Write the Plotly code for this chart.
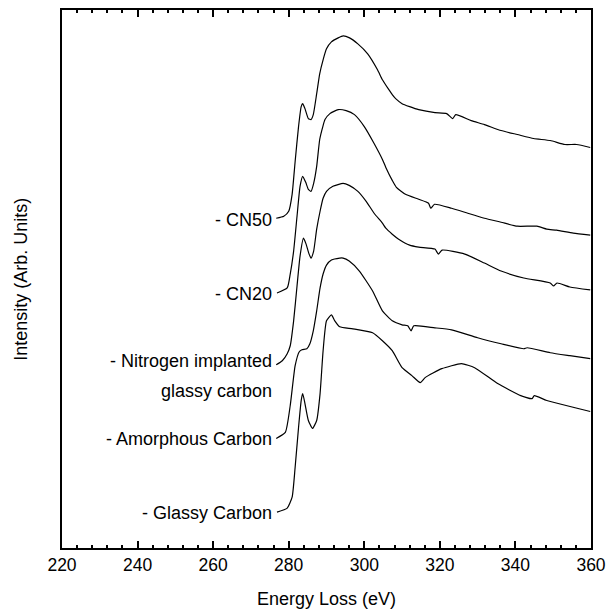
import plotly.graph_objects as go

# ---- data (energy in eV, intensity in arbitrary units, stacked) ----
cn50_e = [276.7, 278.7, 280.0, 280.9, 281.7, 282.6, 283.3, 283.7, 284.3, 285.2, 285.9, 286.5,
          287.4, 288.2, 289.1, 290.0, 291.3, 293.1, 294.4, 296.1, 298.3, 300.9, 303.5, 304.8,
          306.5, 307.4, 308.3, 310.0, 312.0, 314.4, 318.7, 321.8, 323.4, 324.2, 328.3, 331.8,
          336.2, 340.5, 344.8, 349.2, 353.1, 356.2, 359.8]
cn50_i = [331, 333, 338, 355, 388, 423, 443, 446, 441, 431, 430, 435,
          456, 476, 490, 501, 508, 512, 514, 512, 506, 496, 480, 470,
          460, 455, 451, 446, 443, 440, 437, 436, 431, 435, 429, 425,
          419, 415, 411, 409, 405, 405, 402]

cn20_e = [276.9, 279.6, 280.4, 281.3, 282.2, 283.0, 283.7, 284.5, 285.2, 285.9, 286.6, 287.4,
          288.2, 289.1, 289.6, 290.9, 293.1, 295.2, 297.4, 300.0, 302.6, 304.8, 305.7, 307.4,
          308.5, 310.9, 314.4, 317.0, 317.6, 318.6, 323.1, 327.4, 331.8, 336.2, 340.5, 345.7,
          348.3, 350.9, 355.3, 359.8]
cn20_i = [256, 261, 275, 298, 333, 363, 373, 367, 360, 358, 366, 383,
          410, 424, 430, 436, 440, 439, 435, 423, 406, 390, 382, 369,
          362, 355, 350, 346, 341, 345, 341, 336, 331, 327, 323, 323,
          320, 319, 316, 314]

nimp_e = [276.7, 278.3, 279.6, 280.4, 281.3, 282.2, 283.0, 283.9, 284.6, 285.3, 285.9, 286.6,
          287.4, 288.3, 289.1, 290.0, 291.7, 294.4, 296.0, 298.3, 300.5, 302.6, 304.8, 305.7,
          307.4, 309.1, 312.0, 314.4, 318.7, 319.6, 320.6, 326.6, 331.8, 336.2, 342.2, 349.2,
          350.1, 351.0, 354.4, 359.8]
nimp_i = [184, 188, 195, 203, 228, 263, 293, 311, 305, 296, 291, 298,
          320, 338, 351, 358, 363, 366, 364, 358, 348, 336, 326, 321,
          315, 310, 304, 302, 300, 295, 299, 295, 286, 278, 271, 266,
          263, 266, 262, 259]

amor_e = [276.7, 279.1, 280.4, 281.7, 282.8, 283.5, 284.8, 285.6, 286.5, 287.4, 288.3, 289.1,
          290.0, 291.3, 293.5, 294.4, 296.0, 298.7, 302.2, 304.8, 307.4, 310.0, 311.5, 312.4,
          313.1, 318.7, 323.1, 330.0, 336.2, 342.2, 343.1, 349.2, 354.4, 359.8]
amor_i = [110, 116, 143, 183, 197, 199, 200, 205, 218, 238, 261, 275,
          284, 289, 291, 291, 288, 278, 258, 238, 228, 224, 223, 218,
          223, 221, 219, 211, 205, 200, 201, 196, 193, 190]

glas_e = [276.9, 279.6, 280.9, 281.7, 282.6, 283.3, 283.7, 284.3, 285.2, 286.3, 287.4, 288.3,
          289.1, 290.0, 291.3, 292.2, 293.5, 297.0, 302.2, 304.8, 307.4, 310.0, 312.6, 314.8,
          316.1, 320.5, 325.7, 329.2, 335.3, 341.4, 344.4, 345.0, 348.3, 359.8]
glas_i = [36, 40, 51, 81, 121, 148, 155, 145, 128, 120, 128, 155,
          198, 228, 234, 228, 222, 220, 216, 208, 198, 181, 173, 166,
          171, 180, 185, 181, 165, 153, 150, 153, 148, 137]

series = [
    ("CN50", cn50_e, cn50_i),
    ("CN20", cn20_e, cn20_i),
    ("Nitrogen implanted glassy carbon", nimp_e, nimp_i),
    ("Amorphous Carbon", amor_e, amor_i),
    ("Glassy Carbon", glas_e, glas_i),
]

label_texts = ["- CN50", "- CN20", "- Nitrogen implanted", "glassy carbon",
               "- Amorphous Carbon", "- Glassy Carbon"]
label_y = [329, 255, 188, 158, 109, 35]

x_ticks = [220, 240, 260, 280, 300, 320, 340, 360]

FONT = "Liberation Sans, Arial, Helvetica, sans-serif"

fig = go.Figure()
for name, e, i in series:
    fig.add_trace(go.Scatter(x=e, y=i, mode="lines", name=name,
                             line=dict(color="black", width=1.2, shape="spline", smoothing=0.5),
                             showlegend=False, hoverinfo="skip"))

for t, yv in zip(label_texts, label_y):
    fig.add_annotation(x=276, y=yv, xref="x", yref="y", text=t, showarrow=False,
                       xanchor="right", yanchor="middle",
                       font=dict(family=FONT, size=18, color="black"))

fig.add_annotation(x=0.5, y=-0.095, xref="paper", yref="paper", text="Energy Loss (eV)",
                   showarrow=False, xanchor="center", yanchor="middle",
                   font=dict(family=FONT, size=18, color="black"))
fig.add_annotation(x=-0.078, y=0.5, xref="paper", yref="paper", text="Intensity (Arb. Units)",
                   showarrow=False, xanchor="center", yanchor="middle", textangle=-90,
                   font=dict(family=FONT, size=18, color="black"))

fig.update_layout(
    width=614, height=614,
    margin=dict(l=62, r=16, t=8, b=66),
    paper_bgcolor="white", plot_bgcolor="white",
    font=dict(family=FONT, size=18, color="black"),
    xaxis=dict(range=[220, 360], tickmode="array", tickvals=x_ticks,
               ticktext=[str(v) for v in x_ticks],
               ticks="inside", ticklen=7, tickwidth=1.5, tickcolor="black",
               minor=dict(dtick=4, tick0=220, ticks="inside", ticklen=3, tickwidth=1.5, tickcolor="black"),
               showline=True, linewidth=2, linecolor="black", mirror="ticks",
               showgrid=False, zeroline=False,
               tickfont=dict(family=FONT, size=17.5, color="black")),
    yaxis=dict(range=[0, 540], showticklabels=False, ticks="",
               showline=True, linewidth=2, linecolor="black", mirror=True,
               showgrid=False, zeroline=False),
)

fig.write_html("out.html")
